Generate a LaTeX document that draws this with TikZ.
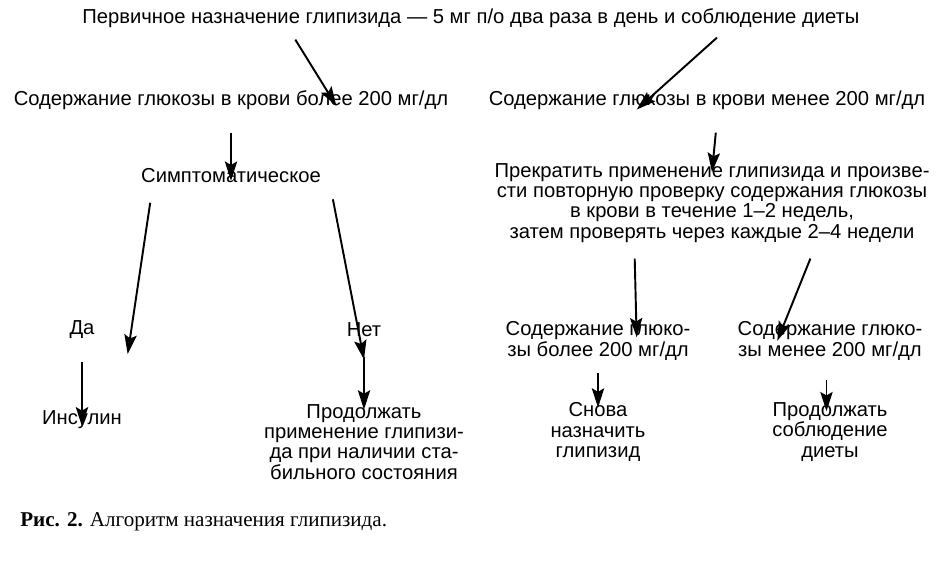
\documentclass[tikz,border=0pt]{standalone}
\usepackage{fontspec}
\setmainfont{Liberation Sans}
\newfontfamily\capfont{Liberation Serif}
\usetikzlibrary{arrows.meta, calc}
\tikzset{
  txt/.style={align=center, inner sep=1pt, font=\fontsize{11.5}{11.5}\selectfont},
  arr/.style={-{Stealth[length=11pt,width=7pt,inset=2pt]}, line width=1.1pt}
}
\begin{document}
\begin{tikzpicture}[x=0.02cm, y=-0.02cm]
\useasboundingbox (0,0) rectangle (952,566);

\node[txt] (top) at (471,18) {Первичное назначение глипизида — 5 мг п/о два раза в день и соблюдение диеты};
\node[txt] (hi) at (231,100) {Содержание глюкозы в крови более 200 мг/дл};
\node[txt] (lo) at (707,100) {Содержание глюкозы в крови менее 200 мг/дл};
\node[txt] (symp) at (231,176) {Симптоматическое};
\node[txt] (stop) at (712,203) {Прекратить применение глипизида и произве-\\сти повторную проверку содержания глюкозы\\в крови в течение 1–2 недель,\\затем проверять через каждые 2–4 недели};
\node[txt] (yes) at (82,330) {Да};
\node[txt] (no) at (364,330) {Нет};
\node[txt] (ins) at (82,420) {Инсулин};
\node[txt] (cont) at (364,442) {Продолжать\\применение глипизи-\\да при наличии ста-\\бильного состояния};
\node[txt] (hi2) at (598,341) {Содержание глюко-\\зы более 200 мг/дл};
\node[txt] (lo2) at (830,341) {Содержание глюко-\\зы менее 200 мг/дл};
\node[txt] (again) at (598,432) {Снова\\назначить\\глипизид};
\node[txt] (diet) at (830,432) {Продолжать\\соблюдение\\диеты};
\node[anchor=west, inner sep=0pt, font=\capfont\fontsize{12}{14}\selectfont] (cap) at (20,522) {\textbf{Рис. 2.} Алгоритм назначения глипизида.};

%% top level
\draw[arr] ([xshift=-100]top.south) ++(0,10) -- ([xshift=60,yshift=-10]hi.north);
\draw[arr] ([xshift=140]top.south) ++(0,8) -- ([xshift=-40,yshift=-12]lo.north);

%% left branch
\draw[arr] ([yshift=-12]hi.south) -- ([yshift=-8]symp.north);
\draw[arr] ([xshift=-46,yshift=-10]symp.south) -- ([xshift=26,yshift=-20]yes.north);
\draw[arr] ([xshift=58,yshift=-8]symp.south) -- ([yshift=-22]no.north);
\draw[arr] ([yshift=-12]yes.south) -- ([yshift=-10]ins.north);
\draw[arr] ([yshift=-10]no.south) -- ([yshift=-4]cont.north);

%% right branch
\draw[arr] ([xshift=5,yshift=-12]lo.south) -- ([yshift=-6]stop.north);
\draw[arr] ([xshift=-44,yshift=-8]stop.south) -- ([xshift=22,yshift=-10]hi2.north);
\draw[arr] ([xshift=56,yshift=-8]stop.south) -- ([xshift=-30,yshift=-12]lo2.north);
\draw[arr] ([yshift=-6]hi2.south) -- ([yshift=-4]again.north);
\draw[arr] ([xshift=-2,yshift=-10]lo2.south) -- ([xshift=-2,yshift=-6]diet.north);
\end{tikzpicture}
\end{document}
